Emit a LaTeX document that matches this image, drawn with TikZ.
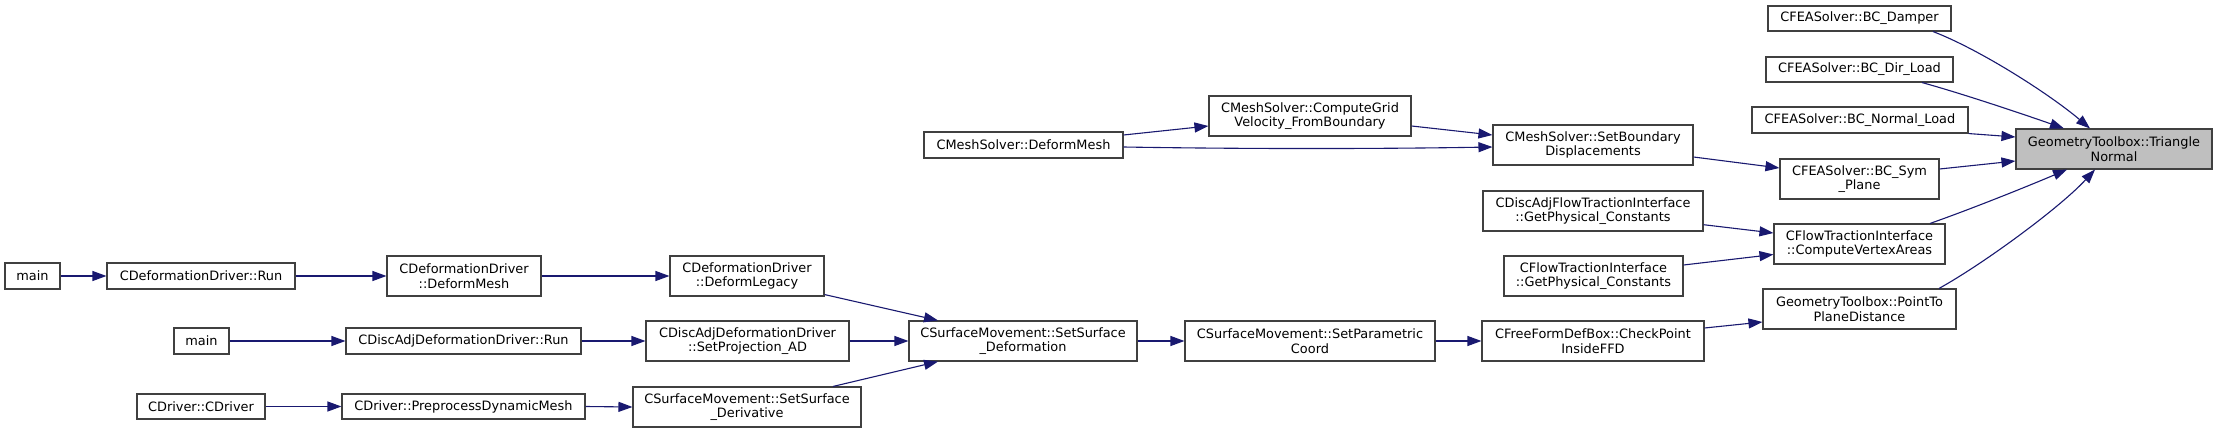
\documentclass[tikz,border=0pt]{standalone}
\usepackage{fontspec}
\setmainfont{DejaVu Sans}
\usetikzlibrary{arrows.meta,calc}
\definecolor{edgec}{HTML}{191970}
\definecolor{boxc}{HTML}{404040}
\definecolor{hl}{HTML}{BFBFBF}
\begin{document}
\begin{tikzpicture}[x=1pt,y=-1pt,
  fn/.style={draw=boxc, line width=1.1pt, fill=white, inner sep=0pt, align=center,
             font=\fontsize{12.9}{14.5}\selectfont},
  hi/.style={fn, fill=hl},
  e/.style={draw=edgec, line width=1.1pt, -{Triangle[length=14pt,width=10pt]}}]
\fill[white] (0,0) rectangle (2217,433);
\useasboundingbox (0,0) rectangle (2217,433);

% column 1
\node[fn, minimum width=55pt, minimum height=26pt] (main1) at (32.5,276) {main};
\node[fn, minimum width=188pt, minimum height=26pt] (defRun) at (201,276) {CDeformationDriver::Run};
\node[fn, minimum width=55pt, minimum height=26pt] (main2) at (201.5,341) {main};
\node[fn, minimum width=128pt, minimum height=25pt] (cdriver) at (201,406.5) {CDriver::CDriver};
% column 2
\node[fn, minimum width=154pt, minimum height=40pt] (defDeform) at (464,276) {CDeformationDriver\\::DeformMesh};
\node[fn, minimum width=235pt, minimum height=26pt] (discRun) at (463.5,341) {CDiscAdjDeformationDriver::Run};
\node[fn, minimum width=243pt, minimum height=25pt] (preproc) at (463.5,406.5) {CDriver::PreprocessDynamicMesh};
% column 3
\node[fn, minimum width=154pt, minimum height=40pt] (legacy) at (747,276) {CDeformationDriver\\::DeformLegacy};
\node[fn, minimum width=203pt, minimum height=40pt] (setProj) at (747.5,341) {CDiscAdjDeformationDriver\\::SetProjection\_AD};
\node[fn, minimum width=228pt, minimum height=40pt] (setDeriv) at (747,407) {CSurfaceMovement::SetSurface\\\_Derivative};
% column 4
\node[fn, minimum width=199pt, minimum height=26pt] (meshDeform) at (1023.5,145) {CMeshSolver::DeformMesh};
\node[fn, minimum width=228pt, minimum height=40pt] (setDeform) at (1023,341) {CSurfaceMovement::SetSurface\\\_Deformation};
% column 5
\node[fn, minimum width=202pt, minimum height=40pt] (gridVel) at (1310,116) {CMeshSolver::ComputeGrid\\Velocity\_FromBoundary};
\node[fn, minimum width=250pt, minimum height=40pt] (setParam) at (1310,341) {CSurfaceMovement::SetParametric\\Coord};
% column 6
\node[fn, minimum width=200pt, minimum height=40pt] (setBound) at (1593,145) {CMeshSolver::SetBoundary\\Displacements};
\node[fn, minimum width=220pt, minimum height=40pt] (discPhys) at (1593,211) {CDiscAdjFlowTractionInterface\\::GetPhysical\_Constants};
\node[fn, minimum width=179pt, minimum height=40pt] (flowPhys) at (1593.5,276) {CFlowTractionInterface\\::GetPhysical\_Constants};
\node[fn, minimum width=222pt, minimum height=40pt] (checkPt) at (1593,341) {CFreeFormDefBox::CheckPoint\\InsideFFD};
% column 7
\node[fn, minimum width=183pt, minimum height=25pt] (damper) at (1859.5,18.5) {CFEASolver::BC\_Damper};
\node[fn, minimum width=187pt, minimum height=25pt] (dirLoad) at (1859.5,69.5) {CFEASolver::BC\_Dir\_Load};
\node[fn, minimum width=216pt, minimum height=26pt] (normLoad) at (1860,120) {CFEASolver::BC\_Normal\_Load};
\node[fn, minimum width=159pt, minimum height=40pt] (symPlane) at (1859.5,179) {CFEASolver::BC\_Sym\\\_Plane};
\node[fn, minimum width=171pt, minimum height=40pt] (vertAreas) at (1859.5,244) {CFlowTractionInterface\\::ComputeVertexAreas};
\node[fn, minimum width=193pt, minimum height=40pt] (pointTo) at (1859.5,309) {GeometryToolbox::PointTo\\PlaneDistance};
% column 8
\node[hi, minimum width=196pt, minimum height=40pt] (triNormal) at (2114,149) {GeometryToolbox::Triangle\\Normal};

% edges
\draw[e] (main1.east) -- (defRun.west);
\draw[e] (defRun.east) -- (defDeform.west);
\draw[e] (defDeform.east) -- (legacy.west);
\draw[e] ($(legacy.south east)+(0,-2)$) -- ($(setDeform.north)+(-85,0)$);
\draw[e] (main2.east) -- (discRun.west);
\draw[e] (discRun.east) -- (setProj.west);
\draw[e] (setProj.east) -- (setDeform.west);
\draw[e] (cdriver.east) -- (preproc.west);
\draw[e] (preproc.east) -- (setDeriv.west);
\draw[e] ($(setDeriv.north)+(86,0)$) -- ($(setDeform.south)+(-85,0)$);
\draw[e] (setDeform.east) -- (setParam.west);
\draw[e] (setParam.east) -- (checkPt.west);
\draw[e] ($(checkPt.east)+(0,-13)$) -- ($(pointTo.west)+(0,13)$);

\draw[e] ($(meshDeform.east)+(0,-10)$) -- ($(gridVel.west)+(0,10)$);
\draw[e] ($(meshDeform.east)+(0,2)$) .. controls +(120,2) and +(-120,2) .. ($(setBound.west)+(0,2)$);
\draw[e] ($(gridVel.east)+(0,10)$) -- ($(setBound.west)+(0,-10)$);
\draw[e] ($(setBound.east)+(0,12)$) -- ($(symPlane.west)+(0,-11)$);
\draw[e] ($(discPhys.east)+(0,13.7)$) -- ($(vertAreas.west)+(0,-11)$);
\draw[e] ($(flowPhys.east)+(0,-11)$) -- ($(vertAreas.west)+(0,10.5)$);

\draw[e] ($(damper.south)+(73.5,0)$) .. controls ($(damper.south)+(120.5,18)$) and ($(triNormal.north)+(-64,-34)$) .. ($(triNormal.north)+(-24,0)$);
\draw[e] ($(dirLoad.south)+(62.5,0)$) .. controls ($(dirLoad.south)+(102.5,11)$) and ($(triNormal.north)+(-90,-14)$) .. ($(triNormal.north)+(-50,0)$);
\draw[e] (normLoad.south east) -- ($(triNormal.west)+(0,-12)$);
\draw[e] ($(symPlane.east)+(0,-10)$) -- ($(triNormal.west)+(0,12)$);
\draw[e] ($(vertAreas.north)+(70.5,0)$) .. controls ($(vertAreas.north)+(110.5,-14)$) and ($(triNormal.south)+(-87,17)$) .. ($(triNormal.south)+(-47,0)$);
\draw[e] ($(pointTo.north)+(79.5,0)$) .. controls ($(pointTo.north)+(124.5,-25)$) and ($(triNormal.south)+(-54,38)$) .. ($(triNormal.south)+(-19,0)$);
\end{tikzpicture}
\end{document}
